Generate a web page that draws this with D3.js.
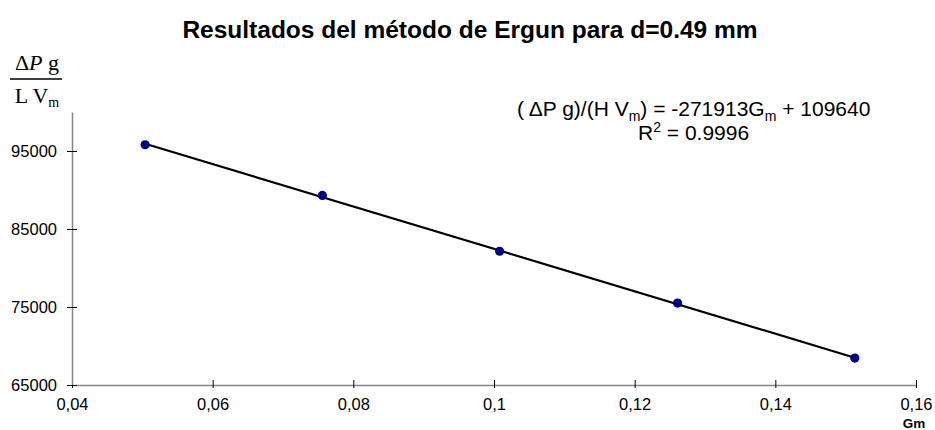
<!DOCTYPE html>
<html>
<head>
<meta charset="utf-8">
<script src="https://cdn.jsdelivr.net/npm/d3@7"></script>
<style>
  body { margin: 0; background: #fff; }
  text { font-family: Arial, "Liberation Sans", sans-serif; }
</style>
</head>
<body>
<svg id="chart" width="935" height="430"></svg>
<script>
// data
const gm = [0.0504, 0.0756, 0.1008, 0.1261, 0.1513];
const ergun = [95800, 89300, 82150, 75500, 68450];
const xTicks = [0.04, 0.06, 0.08, 0.1, 0.12, 0.14, 0.16];
const yTicks = [65000, 75000, 85000, 95000];
// trendline, as printed on the chart
const slope = -271913;
const intercept = 109640;

const svg = d3.select("#chart");
const margin = { top: 112, right: 19, bottom: 45, left: 72 };
const width = 935 - margin.left - margin.right;
const height = 430 - margin.top - margin.bottom;

const x = d3.scaleLinear().domain([0.04, 0.16]).range([margin.left, margin.left + width]);
const y = d3.scaleLinear().domain([65000, 100000]).range([margin.top + height, margin.top]);

// title
svg.append("text")
  .attr("x", 470).attr("y", 38)
  .attr("text-anchor", "middle")
  .attr("font-size", 24.5).attr("font-weight", "bold")
  .text("Resultados del método de Ergun para d=0.49 mm");

// axes
const axisColor = "#868686";
const fmt = d => d3.format("")(d).replace(".", ",");

const xAxis = svg.append("g")
  .attr("transform", `translate(0,${y(65000)})`)
  .call(d3.axisBottom(x).tickValues(xTicks).tickFormat(fmt).tickSizeInner(4).tickSizeOuter(0).tickPadding(9));
xAxis.selectAll(".tick line").attr("y1", -5).attr("y2", 3);

const yAxis = svg.append("g")
  .attr("transform", `translate(${x(0.04)},0)`)
  .call(d3.axisLeft(y).tickValues(yTicks).tickFormat(d3.format("d")).tickSizeInner(5).tickSizeOuter(0).tickPadding(10));
yAxis.selectAll(".tick line").attr("x1", -5).attr("x2", 5);

[xAxis, yAxis].forEach(a => {
  a.select(".domain").attr("stroke", axisColor).attr("stroke-width", 1.5);
  a.selectAll(".tick line").attr("stroke", "#000").attr("stroke-width", 1);
  a.selectAll(".tick text").attr("font-size", 16.5).attr("fill", "#000")
    .attr("font-family", "Arial, 'Liberation Sans', sans-serif");
});

// x axis name
svg.append("text")
  .attr("x", 914).attr("y", 428)
  .attr("text-anchor", "middle")
  .attr("font-size", 13.5).attr("font-weight", "bold")
  .text("Gm");

// y axis name: fraction
const frac = svg.append("g").attr("font-size", 22);
const num = frac.append("text").attr("x", 37).attr("y", 70).attr("text-anchor", "middle")
  .style("font-family", "'Liberation Serif', 'DejaVu Serif', serif");
num.append("tspan").text("Δ");
num.append("tspan").attr("font-style", "italic").text("P");
num.append("tspan").text(" g");
frac.append("line")
  .attr("x1", 10).attr("x2", 62).attr("y1", 79).attr("y2", 79)
  .attr("stroke", "#000").attr("stroke-width", 1.3);
const den = frac.append("text").attr("x", 37).attr("y", 103).attr("text-anchor", "middle")
  .style("font-family", "'Liberation Serif', 'DejaVu Serif', serif");
den.append("tspan").text("L V");
den.append("tspan").attr("font-size", 14).attr("dy", 4).text("m");

// trendline
const line = d3.line().x(d => x(d)).y(d => y(slope * d + intercept));
svg.append("path")
  .datum([gm[0], gm[gm.length - 1]])
  .attr("d", line)
  .attr("fill", "none")
  .attr("stroke", "#000")
  .attr("stroke-width", 2.2);

// points
svg.selectAll("circle.pt")
  .data(gm)
  .join("circle")
  .attr("class", "pt")
  .attr("cx", d => x(d))
  .attr("cy", (d, i) => y(ergun[i]))
  .attr("r", 4.6)
  .attr("fill", "#000080");

// equation label
const eq = svg.append("text").attr("x", 517).attr("y", 116).attr("font-size", 21);
eq.append("tspan").text("( ΔP g)/(H V");
eq.append("tspan").attr("font-size", 14).attr("dy", 5).text("m");
eq.append("tspan").attr("dy", -5).text(") = " + slope + "G");
eq.append("tspan").attr("font-size", 14).attr("dy", 5).text("m");
eq.append("tspan").attr("dy", -5).text(" + " + intercept);

const r2 = svg.append("text").attr("x", 638).attr("y", 140).attr("font-size", 21);
r2.append("tspan").text("R");
r2.append("tspan").attr("font-size", 14).attr("dy", -8).text("2");
r2.append("tspan").attr("dy", 8).text(" = 0.9996");
</script>
</body>
</html>
